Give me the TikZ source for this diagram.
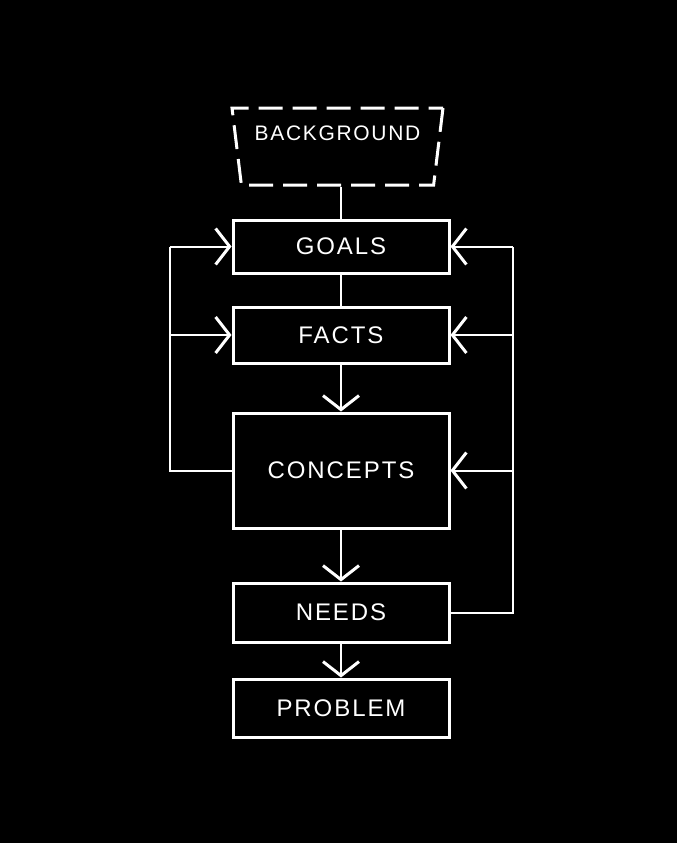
\documentclass[tikz,border=0pt]{standalone}
\usepackage{fontspec}
\usepackage{tikz}
\usetikzlibrary{arrows.meta, calc, shapes.geometric}
\newfontfamily\chalkfont[LetterSpace=8]{Liberation Sans}

\begin{document}
\begin{tikzpicture}[
    x=1pt, y=-1pt,
    stage/.style={draw=white, line width=3pt, text=white, inner sep=0pt,
                  minimum width=216pt, font=\chalkfont\fontsize{24}{24}\selectfont},
    origin/.style={trapezium, shape border rotate=180, trapezium angle=77,
                   trapezium stretches body, draw=white, line width=3pt,
                   dash pattern=on 24pt off 10pt, text=white, inner sep=0pt,
                   minimum width=211pt, minimum height=77pt, text depth=26pt,
                   font=\chalkfont\fontsize{21}{21}\selectfont},
    link/.style={draw=white, line width=2pt},
    flow/.style={link, -{Straight Barb[length=14pt, width=36pt, line width=3pt]}}
]
% chalkboard
\fill[black] (0,0) rectangle (677,843);
\useasboundingbox (0,0) rectangle (677,843);

% stages
\node[origin] (bg) at (337.5,146.5) {BACKGROUND};
\node[stage, minimum height=53pt] (goals) at (341,246.5) {GOALS};
\node[stage, minimum height=56pt] (facts) at (341,335) {FACTS};
\node[stage, minimum height=115pt] (concepts) at (341,470.5) {CONCEPTS};
\node[stage, minimum height=59pt] (needs) at (341,612.5) {NEEDS};
\node[stage, minimum height=58pt] (problem) at (341,708) {PROBLEM};

% main line
\draw[link] (goals.north |- bg.south) -- (goals.north);
\draw[link] (goals.south) -- (facts.north);
\draw[flow] (facts.south) -- (concepts.north);
\draw[flow] (concepts.south) -- (needs.north);
\draw[flow] (needs.south) -- (problem.north);

% feedback left
\coordinate (lx) at (170,0);
\draw[link] (concepts.west) -| (lx |- goals.west);
\draw[flow] (lx |- goals.west) -- (goals.west);
\draw[flow] (lx |- facts.west) -- (facts.west);

% feedback right
\coordinate (rx) at (513,0);
\draw[link] (needs.east) -| (rx |- goals.east);
\draw[flow] (rx |- goals.east) -- (goals.east);
\draw[flow] (rx |- facts.east) -- (facts.east);
\draw[flow] (rx |- concepts.east) -- (concepts.east);
\end{tikzpicture}
\end{document}
